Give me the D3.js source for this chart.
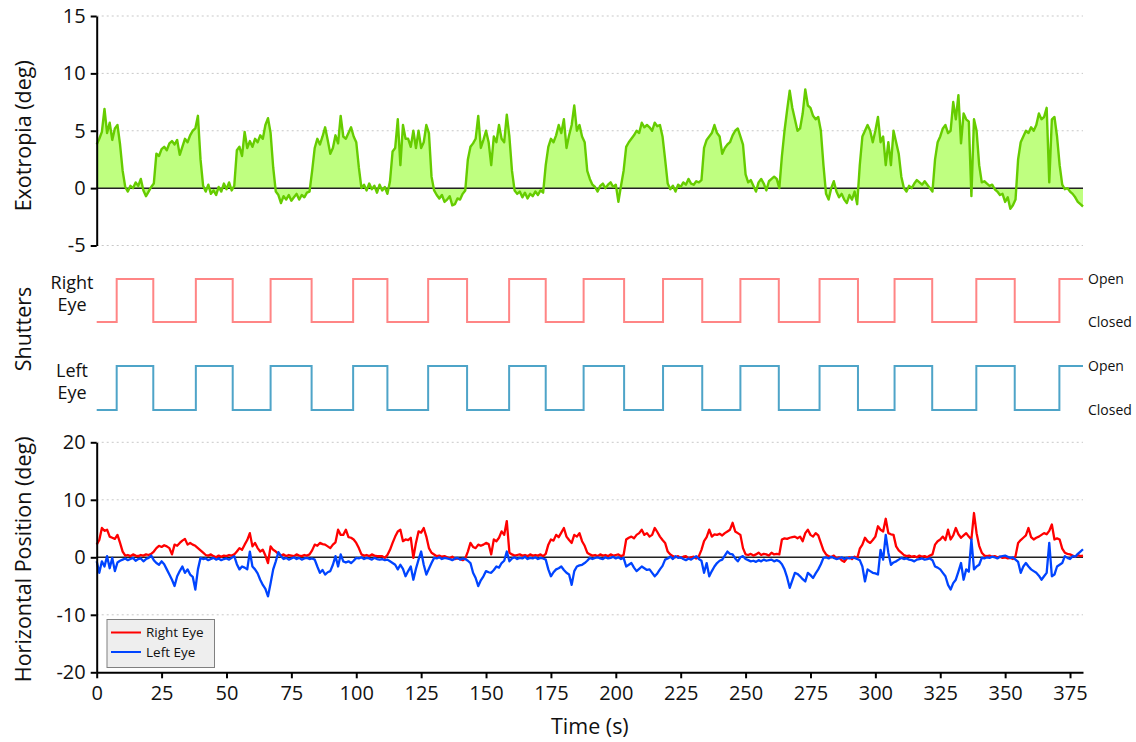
<!DOCTYPE html>
<html>
<head>
<meta charset="utf-8">
<script src="https://cdn.jsdelivr.net/npm/d3@7"></script>
<style>
  html, body { margin: 0; padding: 0; background: #fff; }
  svg { display: block; }
  text { font-family: "Open Sans", "Noto Sans", sans-serif; fill: #111; }
</style>
</head>
<body>
<svg id="chart" width="1136" height="742"></svg>
<script>
// ---------- DATA (1 sample per second, t = 0 .. 380 s) ----------
const exotropia = [
  3.8, 4.3, 4.9, 6.9, 4.8, 5.7, 4.2, 5.2, 5.5, 3.8,
  1.5, 0.1, -0.3, 0.2, 0.0, 0.5, 0.2, 0.8, -0.2, -0.7,
  -0.3, 0.1, 0.4, 3.0, 2.8, 3.4, 3.6, 3.3, 3.9, 4.1,
  3.8, 4.2, 2.9, 3.6, 4.3, 4.0, 4.6, 5.0, 5.2, 6.3,
  2.5, 0.2, -0.3, 0.3, -0.5, -0.2, -0.6, 0.1, -0.3, 0.4,
  -0.1, 0.5, -0.2, 0.2, 3.3, 3.6, 2.8, 4.9, 3.5, 4.1,
  3.6, 4.3, 4.0, 4.6, 4.3, 5.5, 6.1, 4.8, 1.8, -0.3,
  -0.6, -1.3, -0.7, -1.0, -0.6, -1.1, -0.8, -0.5, -1.0, -0.6,
  -0.8, -0.4, -0.3, 1.5, 3.5, 4.3, 3.8, 4.5, 5.3, 4.2,
  3.0, 3.5, 4.6, 3.9, 6.3, 4.5, 4.3, 4.8, 5.3, 4.5,
  4.0, 1.8, 0.0, 0.3, -0.2, 0.4, -0.1, 0.2, -0.4, 0.3,
  -0.2, 0.1, -0.5, 0.6, 3.2, 3.5, 6.0, 2.0, 5.5, 4.3,
  4.3, 3.6, 5.0, 3.5, 5.0, 3.5, 4.0, 5.5, 4.8, 1.0,
  -0.2, -0.6, -0.9, -0.6, -1.2, -1.0, -0.7, -1.5, -1.4, -0.9,
  -1.0, -0.5, -0.2, 2.5, 3.6, 3.9, 4.3, 6.3, 3.5, 4.2,
  5.0, 4.0, 2.0, 4.5, 4.0, 5.5, 4.3, 4.0, 6.4, 4.5,
  1.5, -0.2, -0.5, -0.3, -0.8, -0.4, -0.9, -0.5, -0.7, -0.3,
  -0.6, -0.2, -0.4, 2.0, 3.6, 4.3, 4.0, 4.6, 5.5, 4.8,
  6.0, 3.5, 4.6, 5.5, 7.2, 5.0, 5.5, 4.5, 4.0, 1.5,
  0.8, 0.3, 0.1, -0.3, 0.2, 0.4, 0.0, 0.3, 0.5, 0.1,
  0.3, -1.2, 0.2, 1.5, 3.6, 4.0, 4.3, 4.6, 5.0, 4.8,
  5.7, 5.3, 5.5, 5.3, 5.0, 5.7, 5.4, 5.5, 4.5, 2.5,
  0.4, -0.1, 0.2, -0.3, 0.3, 0.1, 0.5, 0.3, 0.8, 0.4,
  0.3, 0.6, 0.5, 0.7, 3.5, 4.2, 4.5, 4.8, 5.5, 4.8,
  4.5, 3.0, 3.5, 3.8, 4.0, 4.6, 5.0, 5.2, 4.5, 3.8,
  1.2, 0.5, 0.7, 0.2, -0.3, 0.5, 0.8, 0.4, -0.2, 0.6,
  0.8, 1.0, 0.8, 0.0, 2.8, 5.0, 6.8, 8.5, 7.0, 6.0,
  5.0, 5.2, 6.5, 8.6, 7.2, 7.0, 6.3, 6.0, 6.2, 5.0,
  2.0, -0.5, -1.0, 0.0, 0.6, -0.3, -0.8, -0.5, -1.0, -1.3,
  -0.6, -1.0, -0.3, -1.4, 2.0, 4.5, 5.0, 5.5, 5.0, 4.0,
  5.0, 6.2, 4.0, 4.5, 2.0, 4.0, 2.0, 5.0, 4.0, 3.0,
  1.0, 0.0, -0.3, 0.2, 0.0, 0.4, 0.7, 0.5, 0.3, 0.6,
  0.3, 0.0, -0.3, 2.5, 4.0, 4.5, 5.2, 5.5, 4.8, 5.0,
  7.5, 6.0, 8.1, 3.9, 6.5, 6.0, 5.8, -0.7, 6.0, 5.0,
  2.0, 0.5, 0.6, 0.4, 0.2, 0.3, -0.1, -0.3, -0.6, -0.5,
  -1.2, -0.8, -1.8, -1.5, -1.0, 2.5, 4.0, 4.5, 5.0, 4.8,
  5.3, 5.0, 5.5, 6.5, 6.0, 6.2, 7.0, 0.5, 6.0, 6.2,
  4.5, 2.0, 0.3, -0.1, 0.0, -0.3, -0.5, -0.8, -1.2, -1.4,
  -1.6
];

const rightEye = [
  2.2, 3.0, 5.1, 4.6, 4.8, 3.6, 3.4, 3.2, 3.9, 2.5,
  1.0, 0.3, 0.4, 0.2, 0.5, 0.3, 0.2, 0.4, 0.3, 0.5,
  0.4, 0.6, 1.0, 1.6, 2.0, 1.8, 2.1, 1.9, 1.6, 0.5,
  2.2, 2.0, 2.5, 2.9, 3.2, 2.2, 2.5, 2.2, 2.0, 1.6,
  1.2, 0.8, 0.4, 0.3, 0.5, 0.2, 0.0, 0.3, 0.1, 0.3,
  0.2, 0.4, 0.3, 0.5, 1.0, 1.6, 1.3, 2.2, 3.0, 4.2,
  1.9, 2.5, 1.6, 1.0, 1.3, 0.3, -1.0, 1.9, 1.3, 1.0,
  0.6, 0.3, 0.5, 0.2, 0.4, 0.3, 0.2, 0.5, 0.3, 0.2,
  0.4, 0.3, 0.5, 1.2, 2.2, 2.0, 2.5, 2.3, 2.2, 1.9,
  1.6, 2.2, 2.6, 4.8, 3.9, 3.9, 4.8, 3.5, 3.4, 3.1,
  2.5, 1.6, 0.5, 0.3, 0.4, 0.2, 0.5, 0.3, 0.2, 0.2,
  0.2, -0.1, 0.4, 1.3, 2.5, 3.6, 4.5, 4.8, 2.8, 3.1,
  3.0, 3.4, -0.1, 2.5, 4.5, 4.3, 5.1, 3.6, 1.6, 0.8,
  0.5, 0.2, 0.3, 0.1, 0.2, 0.0, -0.2, 0.1, -0.3, -0.2,
  -0.3, -0.5, -0.2, 1.0, 2.5, 1.8, 1.6, 2.2, 2.0, 2.2,
  2.5, 2.3, 0.5, 3.1, 2.8, 3.4, 4.5, 3.9, 6.3, 0.8,
  0.5, 0.3, 0.4, 0.5, 0.3, 0.4, 0.2, 0.5, 0.3, 0.4,
  0.3, 0.5, 0.2, 0.6, 2.2, 3.1, 2.9, 3.9, 3.5, 4.3,
  5.1, 3.6, 3.0, 2.5, 3.9, 3.6, 4.2, 2.8, 2.0, 0.8,
  0.5, 0.3, 0.4, 0.2, 0.5, 0.3, 0.4, 0.2, 0.5, 0.3,
  0.4, 0.5, 0.2, 0.4, 3.1, 3.4, 3.6, 3.3, 3.9, 4.2,
  4.8, 3.9, 4.2, 3.6, 3.9, 5.1, 4.4, 3.6, 3.0, 2.5,
  1.0, 0.5, 0.2, 0.0, 0.2, -0.1, 0.1, 0.2, -0.2, 0.0,
  0.1, -0.2, 0.2, 1.3, 2.8, 3.5, 4.8, 3.6, 4.0, 3.9,
  4.1, 3.8, 4.2, 4.5, 4.8, 6.0, 4.5, 4.2, 3.9, 1.6,
  0.5, 0.4, 0.6, 0.3, 0.5, 0.8, 0.4, 0.6, 0.5, 0.3,
  0.8, 0.5, 0.6, 0.5, 3.1, 3.3, 3.2, 3.4, 3.5, 3.6,
  3.3, 3.6, 2.8, 4.2, 4.8, 3.9, 3.6, 4.2, 3.8, 2.5,
  1.2, 0.5, 0.2, 0.0, 0.3, -0.2, 0.0, -0.5, -0.8, -0.2,
  0.0, -0.3, 0.1, -0.2, 1.5, 2.2, 3.4, 2.8, 2.5, 3.0,
  3.6, 5.4, 4.8, 4.5, 6.7, 4.2, 4.0, 3.9, 1.9, 1.2,
  0.8, 0.4, 0.2, 0.3, 0.1, 0.2, 0.0, 0.3, 0.1, 0.2,
  0.0, 0.3, 0.5, 2.2, 2.8, 3.1, 3.6, 3.0, 4.8, 3.1,
  3.8, 5.1, 4.0, 3.4, 3.8, 4.2, 3.6, 3.1, 7.7, 4.2,
  2.0, 0.8, 0.3, 0.2, 0.3, 0.1, 0.2, 0.0, 0.1, -0.1,
  0.0, -0.2, -0.1, -0.3, 0.2, 2.5, 3.0, 3.4, 3.8, 5.1,
  3.5, 3.1, 3.4, 3.6, 3.9, 4.2, 4.0, 4.6, 5.7, 3.1,
  3.3, 3.1, 1.5, 0.8, 0.6, 0.5, 0.3, 0.1, 0.4, 0.2,
  0.3
];

const leftEye = [
  -0.7, -2.7, -0.7, -1.6, 0.2, -1.9, -0.1, -2.4, -0.9, -0.6,
  -0.4, -0.2, -0.5, -0.3, -0.1, -0.6, -0.3, -0.2, -0.7, -0.3,
  -0.1, 0.3, -0.5, -1.0, -1.3, -0.7, -1.2, -2.1, -3.0, -3.9,
  -5.0, -3.3, -2.4, -1.6, -2.7, -2.1, -3.0, -3.4, -5.6, -2.1,
  -0.1, -0.3, -0.2, -0.5, -0.3, -0.1, -0.4, -0.2, -0.5, -0.3,
  -0.2, -0.4, -0.1, 0.2, -1.2, -2.1, -1.6, -1.8, -2.1, 1.0,
  -1.6, -2.1, -2.8, -3.9, -4.8, -5.5, -6.8, -4.5, -2.1, -0.7,
  0.9, 0.2, -0.3, -0.1, -0.4, -0.2, 0.0, -0.3, -0.1, -0.4,
  -0.2, -0.1, -0.3, -0.2, -0.4, -1.6, -2.7, -2.2, -3.0, -2.6,
  -2.4, -1.3, 0.2, -1.6, 0.5, -0.7, -0.9, -0.7, -1.0, -0.6,
  -0.1, -0.2, 0.0, -0.3, -0.1, -0.2, -0.4, -0.1, -0.3, -0.4,
  -0.3, -0.5, -0.4, -0.7, -1.0, -1.3, -2.1, -1.3, -2.0, -3.3,
  -2.4, -1.6, -3.9, -2.0, -0.4, 1.0, -1.3, -3.0, -2.0, -1.0,
  -0.1, -0.2, 0.0, -0.3, -0.1, -0.2, -0.3, -0.5, -0.2, -0.1,
  -0.4, -0.2, -0.3, -0.6, -1.0, -2.7, -3.6, -5.0, -4.0, -3.3,
  -2.4, -2.6, -2.7, -2.2, -1.6, -1.8, -1.0, -0.6, 1.0, -0.7,
  -0.2, 0.0, -0.3, -0.1, -0.2, 0.1, -0.3, -0.1, -0.2, 0.0,
  -0.3, -0.1, -0.2, -0.4, -2.1, -3.3, -2.6, -2.1, -1.9, -1.6,
  -2.2, -2.7, -3.0, -4.8, -2.4, -1.6, -1.4, -1.3, -1.0, -0.6,
  -0.1, -0.3, -0.1, 0.0, -0.2, -0.3, 0.0, -0.2, -0.1, 0.1,
  -0.2, 0.0, -0.3, -0.1, -1.6, -1.3, -1.0, -1.8, -2.4, -2.0,
  -1.6, -1.9, -2.2, -2.1, -2.7, -3.3, -2.8, -2.1, -1.5, -0.4,
  -0.2, 0.1, -0.3, 0.2, -0.1, 0.0, -0.3, -0.5, -0.2, -0.4,
  -0.1, 0.2, -0.3, -0.6, -2.7, -1.0, -3.3, -2.4, -1.6, -1.0,
  -0.6, -0.4, 0.3, 1.0, 0.6, 0.5, -0.2, -0.7, 0.0, 0.2,
  -0.3, -0.5, -0.7, -0.6, -0.8, -0.5, -0.7, -0.4, -0.6, -0.5,
  -0.4, -0.7, -0.5, -0.7, -1.2, -2.1, -3.5, -5.3, -4.0, -2.7,
  -2.9, -3.3, -3.8, -4.2, -2.7, -3.1, -3.6, -2.8, -2.1, -1.2,
  -0.1, 0.0, -0.2, 0.1, -0.1, -0.3, -0.2, 0.0, -0.3, -0.1,
  -0.2, 0.0, -0.1, -0.3, -0.5, -1.6, -4.2, -2.1, -2.4, -2.7,
  -2.8, -3.0, 1.3, -0.4, 3.9, 0.8, -1.3, -0.9, -0.7, -0.4,
  -0.1, -0.3, -0.2, -0.4, -0.5, -0.7, -0.4, -0.3, -0.2, -0.4,
  -0.3, -0.2, -0.5, -1.6, -1.8, -2.1, -2.7, -3.3, -4.8, -5.6,
  -4.5, -3.9, -2.5, -1.0, -3.9, -2.1, -2.5, 3.1, -2.1, -1.6,
  -1.3, -0.1, -0.2, 0.0, -0.1, 0.1, 0.0, -0.2, 0.1, 0.2,
  0.3, 0.1, -0.1, 0.0, -0.4, -0.8, -2.7, -1.6, -1.0, -1.6,
  -2.1, -2.4, -2.7, -3.2, -3.9, -3.3, -2.7, 2.5, -3.3, -3.0,
  -1.6, -1.3, -1.0, 0.2, -0.1, -0.3, 0.2, 0.1, 0.6, 1.0,
  1.4
];

// Shutter transition times (s); state toggles at each, starting "Closed"
const shutterTimes = [7.7, 21.8, 38.2, 52.4, 67.0, 82.8, 98.8, 112.0, 127.7, 142.7,
  158.9, 173.0, 187.6, 203.2, 218.2, 233.3, 248.0, 262.8, 278.5, 293.3,
  307.4, 321.9, 338.9, 353.7, 370.9];

const topTicks = [-5, 0, 5, 10, 15];
const bottomTicks = [-20, -10, 0, 10, 20];
const xTicks = [0, 25, 50, 75, 100, 125, 150, 175, 200, 225, 250, 275, 300, 325, 350, 375];
const seriesNames = ["Right Eye", "Left Eye"];

// ---------- LAYOUT ----------
const svg = d3.select("#chart");
const x = d3.scaleLinear().domain([0, 380]).range([96.7, 1083]);
const yTop = d3.scaleLinear().domain([-5, 15]).range([245.5, 16]);
const yBot = d3.scaleLinear().domain([-20, 20]).range([672.3, 442.3]);
const yRightSh = d3.scaleLinear().domain([0, 1]).range([322, 279]);
const yLeftSh = d3.scaleLinear().domain([0, 1]).range([410, 366]);

const colors = {
  green: "#66cc00", greenFill: "#bfff80",
  rightSh: "#ff8585", leftSh: "#4ea4c8",
  right: "#ff0000", left: "#0044ff"
};
const fmt = d => String(d);

function grid(values, y) {
  svg.append("g").selectAll("line").data(values).join("line")
    .attr("x1", x(0)).attr("x2", x(380))
    .attr("y1", d => y(d)).attr("y2", d => y(d))
    .attr("stroke", "#c8c8c8").attr("stroke-width", 1)
    .attr("stroke-dasharray", "2,3");
}
grid([15, 10, 5, -5], yTop);
grid([20, 10, -10], yBot);

// ---------- TOP PANEL: exotropia ----------
const exoData = exotropia.map((v, i) => ({ t: i, v }));
svg.append("path").datum(exoData)
  .attr("fill", colors.greenFill)
  .attr("d", d3.area().x(d => x(d.t)).y0(yTop(0)).y1(d => yTop(d.v)));
svg.append("line").attr("x1", x(0)).attr("x2", x(380))
  .attr("y1", yTop(0)).attr("y2", yTop(0)).attr("stroke", "#222").attr("stroke-width", 1.5);
svg.append("path").datum(exoData)
  .attr("fill", "none").attr("stroke", colors.green).attr("stroke-width", 2.4)
  .attr("stroke-linejoin", "round")
  .attr("d", d3.line().x(d => x(d.t)).y(d => yTop(d.v)));

function styleAxis(g) {
  g.selectAll(".domain").attr("stroke", "#000").attr("stroke-width", 2);
  g.selectAll(".tick line").attr("stroke", "#000").attr("stroke-width", 2);
  g.selectAll(".tick text").attr("font-size", 20).attr("font-family", "'Open Sans', sans-serif").attr("fill", "#111");
}
svg.append("g").attr("transform", `translate(${x(0)},0)`)
  .call(d3.axisLeft(yTop).tickValues(topTicks).tickFormat(fmt).tickSize(6).tickSizeOuter(0).tickPadding(5))
  .call(styleAxis);

svg.append("text").attr("transform", `translate(22,${(yTop(15) + yTop(-5)) / 2 + 5}) rotate(-90)`)
  .attr("text-anchor", "middle").attr("dominant-baseline", "central")
  .attr("font-size", 21.5).text("Exotropia (deg)");

// ---------- MIDDLE PANEL: shutters ----------
function shutterData() {
  const pts = [{ t: 0, s: 0 }];
  let s = 0;
  shutterTimes.forEach(t => { s = 1 - s; pts.push({ t, s }); });
  pts.push({ t: 380, s });
  return pts;
}
const sh = shutterData();
[[yRightSh, colors.rightSh], [yLeftSh, colors.leftSh]].forEach(([ys, c]) => {
  svg.append("path").datum(sh)
    .attr("fill", "none").attr("stroke", c).attr("stroke-width", 2)
    .attr("d", d3.line().curve(d3.curveStepAfter).x(d => x(d.t)).y(d => ys(d.s)));
  svg.append("text").attr("x", 1088).attr("y", ys(1)).attr("dy", "0.35em")
    .attr("font-size", 14).text("Open");
  svg.append("text").attr("x", 1088).attr("y", ys(0)).attr("dy", "0.35em")
    .attr("font-size", 14).text("Closed");
});
function eyeLabel(lines, y0) {
  svg.append("text").attr("text-anchor", "middle").attr("font-size", 18)
    .selectAll("tspan").data(lines).join("tspan")
    .attr("x", 72).attr("y", (d, i) => y0 + i * 22).text(d => d);
}
eyeLabel(["Right", "Eye"], 289);
eyeLabel(["Left", "Eye"], 377);
svg.append("text").attr("transform", `translate(22,329) rotate(-90)`)
  .attr("text-anchor", "middle").attr("dominant-baseline", "central")
  .attr("font-size", 21.5).text("Shutters");

// ---------- BOTTOM PANEL: horizontal position ----------
svg.append("line").attr("x1", x(0)).attr("x2", x(380))
  .attr("y1", yBot(0)).attr("y2", yBot(0)).attr("stroke", "#222").attr("stroke-width", 1.5);
const posLine = d3.line().x((d, i) => x(i)).y(d => yBot(d)).curve(d3.curveLinear);
svg.append("path").datum(rightEye).attr("fill", "none").attr("stroke", colors.right)
  .attr("stroke-width", 2.3).attr("stroke-linejoin", "round").attr("d", posLine);
svg.append("path").datum(leftEye).attr("fill", "none").attr("stroke", colors.left)
  .attr("stroke-width", 2.3).attr("stroke-linejoin", "round").attr("d", posLine);

svg.append("g").attr("transform", `translate(${x(0)},0)`)
  .call(d3.axisLeft(yBot).tickValues(bottomTicks).tickFormat(fmt).tickSize(6).tickSizeOuter(0).tickPadding(5))
  .call(styleAxis);
svg.append("g").attr("transform", `translate(0,${yBot(-20)})`)
  .call(d3.axisBottom(x).tickValues(xTicks).tickFormat(fmt).tickSize(6).tickSizeOuter(0).tickPadding(8))
  .call(styleAxis);

svg.append("text").attr("transform", `translate(22,${(yBot(20) + yBot(-20)) / 2 + 2}) rotate(-90)`)
  .attr("text-anchor", "middle").attr("dominant-baseline", "central")
  .attr("font-size", 21.5).text("Horizontal Position (deg)");
svg.append("text").attr("x", (x(0) + x(380)) / 2).attr("y", 734)
  .attr("text-anchor", "middle").attr("font-size", 21.5).text("Time (s)");

// ---------- LEGEND ----------
const lg = svg.append("g").attr("transform", "translate(107,619.5)");
lg.append("rect").attr("width", 107.5).attr("height", 48)
  .attr("fill", "#eeeeee").attr("stroke", "#808080").attr("stroke-width", 1);
[colors.right, colors.left].forEach((c, i) => {
  lg.append("line").attr("x1", 4).attr("x2", 34).attr("y1", 13 + i * 19.5).attr("y2", 13 + i * 19.5)
    .attr("stroke", c).attr("stroke-width", 2);
  lg.append("text").attr("x", 39).attr("y", 13 + i * 19.5).attr("dy", "0.35em")
    .attr("font-size", 13.5).text(seriesNames[i]);
});
</script>
</body>
</html>
